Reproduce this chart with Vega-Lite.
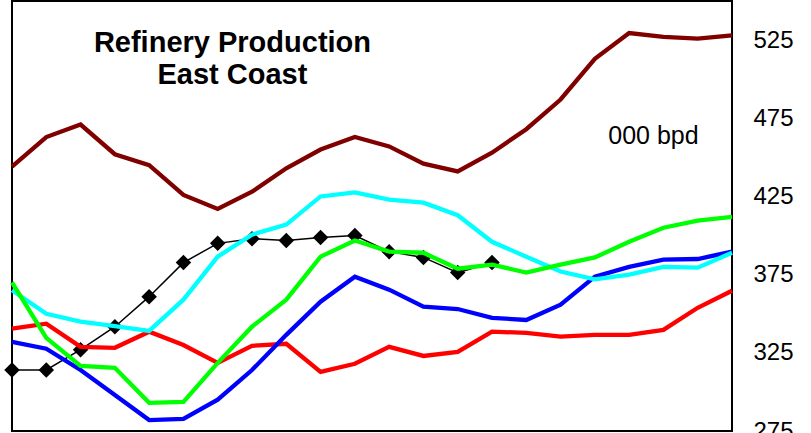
{
  "$schema": "https://vega.github.io/schema/vega-lite/v6.json",
  "autosize": {"type": "none"},
  "padding": {"left": 12, "top": 1, "right": 79, "bottom": 2},
  "width": 720,
  "height": 430,
  "background": "white",
  "config": {
    "view": {"stroke": "#000", "strokeWidth": 2},
    "font": "Liberation Sans"
  },
  "datasets": {
    "series": [
      {"s": "red", "i": 0, "v": 340.4}, {"s": "red", "i": 1, "v": 343.6}, {"s": "red", "i": 2, "v": 328.8}, {"s": "red", "i": 3, "v": 328.2}, {"s": "red", "i": 4, "v": 338.5}, {"s": "red", "i": 5, "v": 330}, {"s": "red", "i": 6, "v": 318.6}, {"s": "red", "i": 7, "v": 329.5}, {"s": "red", "i": 8, "v": 330.8}, {"s": "red", "i": 9, "v": 312.8}, {"s": "red", "i": 10, "v": 318}, {"s": "red", "i": 11, "v": 328.8}, {"s": "red", "i": 12, "v": 323}, {"s": "red", "i": 13, "v": 325.6}, {"s": "red", "i": 14, "v": 338.5}, {"s": "red", "i": 15, "v": 337.8}, {"s": "red", "i": 16, "v": 335.3}, {"s": "red", "i": 17, "v": 336.5}, {"s": "red", "i": 18, "v": 336.5}, {"s": "red", "i": 19, "v": 339.7}, {"s": "red", "i": 20, "v": 353.8}, {"s": "red", "i": 21, "v": 364.7},
      {"s": "blue", "i": 0, "v": 332}, {"s": "blue", "i": 1, "v": 327.6}, {"s": "blue", "i": 2, "v": 314}, {"s": "blue", "i": 3, "v": 298}, {"s": "blue", "i": 4, "v": 282}, {"s": "blue", "i": 5, "v": 282.7}, {"s": "blue", "i": 6, "v": 295}, {"s": "blue", "i": 7, "v": 314}, {"s": "blue", "i": 8, "v": 336.5}, {"s": "blue", "i": 9, "v": 357.7}, {"s": "blue", "i": 10, "v": 373.7}, {"s": "blue", "i": 11, "v": 365.4}, {"s": "blue", "i": 12, "v": 354.5}, {"s": "blue", "i": 13, "v": 353}, {"s": "blue", "i": 14, "v": 347.4}, {"s": "blue", "i": 15, "v": 346}, {"s": "blue", "i": 16, "v": 355.8}, {"s": "blue", "i": 17, "v": 373.7}, {"s": "blue", "i": 18, "v": 380}, {"s": "blue", "i": 19, "v": 384.6}, {"s": "blue", "i": 20, "v": 385}, {"s": "blue", "i": 21, "v": 389.7},
      {"s": "cyan", "i": 0, "v": 365}, {"s": "cyan", "i": 1, "v": 350}, {"s": "cyan", "i": 2, "v": 345}, {"s": "cyan", "i": 3, "v": 342}, {"s": "cyan", "i": 4, "v": 339}, {"s": "cyan", "i": 5, "v": 359}, {"s": "cyan", "i": 6, "v": 386.5}, {"s": "cyan", "i": 7, "v": 400.6}, {"s": "cyan", "i": 8, "v": 407}, {"s": "cyan", "i": 9, "v": 425}, {"s": "cyan", "i": 10, "v": 427.6}, {"s": "cyan", "i": 11, "v": 423}, {"s": "cyan", "i": 12, "v": 421}, {"s": "cyan", "i": 13, "v": 413}, {"s": "cyan", "i": 14, "v": 396}, {"s": "cyan", "i": 15, "v": 386.5}, {"s": "cyan", "i": 16, "v": 377}, {"s": "cyan", "i": 17, "v": 372}, {"s": "cyan", "i": 18, "v": 375}, {"s": "cyan", "i": 19, "v": 380}, {"s": "cyan", "i": 20, "v": 379.5}, {"s": "cyan", "i": 21, "v": 389},
      {"s": "green", "i": 0, "v": 370}, {"s": "green", "i": 1, "v": 334.6}, {"s": "green", "i": 2, "v": 316.7}, {"s": "green", "i": 3, "v": 315.4}, {"s": "green", "i": 4, "v": 293}, {"s": "green", "i": 5, "v": 293.6}, {"s": "green", "i": 6, "v": 318.6}, {"s": "green", "i": 7, "v": 341.7}, {"s": "green", "i": 8, "v": 359}, {"s": "green", "i": 9, "v": 386.5}, {"s": "green", "i": 10, "v": 396.8}, {"s": "green", "i": 11, "v": 389.7}, {"s": "green", "i": 12, "v": 389}, {"s": "green", "i": 13, "v": 378.8}, {"s": "green", "i": 14, "v": 381.4}, {"s": "green", "i": 15, "v": 376.3}, {"s": "green", "i": 16, "v": 381.4}, {"s": "green", "i": 17, "v": 386}, {"s": "green", "i": 18, "v": 396}, {"s": "green", "i": 19, "v": 405}, {"s": "green", "i": 20, "v": 409.6}, {"s": "green", "i": 21, "v": 412},
      {"s": "maroon", "i": 0, "v": 444}, {"s": "maroon", "i": 1, "v": 463}, {"s": "maroon", "i": 2, "v": 471}, {"s": "maroon", "i": 3, "v": 452}, {"s": "maroon", "i": 4, "v": 445}, {"s": "maroon", "i": 5, "v": 426}, {"s": "maroon", "i": 6, "v": 417}, {"s": "maroon", "i": 7, "v": 428}, {"s": "maroon", "i": 8, "v": 443}, {"s": "maroon", "i": 9, "v": 455}, {"s": "maroon", "i": 10, "v": 463}, {"s": "maroon", "i": 11, "v": 457}, {"s": "maroon", "i": 12, "v": 446}, {"s": "maroon", "i": 13, "v": 441}, {"s": "maroon", "i": 14, "v": 453}, {"s": "maroon", "i": 15, "v": 468}, {"s": "maroon", "i": 16, "v": 487}, {"s": "maroon", "i": 17, "v": 513}, {"s": "maroon", "i": 18, "v": 529.5}, {"s": "maroon", "i": 19, "v": 527}, {"s": "maroon", "i": 20, "v": 526}, {"s": "maroon", "i": 21, "v": 528}
    ],
    "actual": [
      {"i": 0, "v": 314}, {"i": 1, "v": 314}, {"i": 2, "v": 327}, {"i": 3, "v": 341.7}, {"i": 4, "v": 360.9}, {"i": 5, "v": 382.7}, {"i": 6, "v": 395}, {"i": 7, "v": 398}, {"i": 8, "v": 396.8}, {"i": 9, "v": 398.7}, {"i": 10, "v": 400}, {"i": 11, "v": 389.7}, {"i": 12, "v": 386}, {"i": 13, "v": 376.3}, {"i": 14, "v": 382.7}
    ]
  },
  "layer": [
    {
      "data": {"name": "actual"},
      "mark": {"type": "line", "color": "#000", "strokeWidth": 1.5, "point": {"shape": "diamond", "size": 240, "filled": true, "color": "#000"}},
      "encoding": {
        "x": {"field": "i", "type": "quantitative", "scale": {"domain": [0, 21], "nice": false, "zero": false}, "axis": null},
        "y": {"field": "v", "type": "quantitative", "scale": {"domain": [275, 550], "nice": false, "zero": false},
              "axis": {"orient": "right", "values": [275, 325, 375, 425, 475, 525], "ticks": false, "domain": false, "grid": false, "labelFontSize": 24, "labelFont": "Liberation Sans", "labelColor": "#000", "labelPadding": 21, "labelOverlap": false, "labelBound": false, "labelFlush": false, "title": null}}
      }
    },
    {
      "data": {"name": "series"},
      "mark": {"type": "line", "strokeWidth": 4.3},
      "encoding": {
        "x": {"field": "i", "type": "quantitative"},
        "y": {"field": "v", "type": "quantitative"},
        "color": {"field": "s", "type": "nominal", "scale": {"domain": ["red", "blue", "cyan", "green", "maroon"], "range": ["#FF0000", "#0000FF", "#00FFFF", "#00FF00", "#800000"]}, "legend": null}
      }
    },
    {
      "data": {"values": [{}]},
      "mark": {"type": "text", "text": ["Refinery Production", "East Coast"], "font": "Liberation Sans", "fontSize": 29, "fontWeight": "bold", "align": "center", "baseline": "alphabetic", "lineHeight": 32, "color": "#000"},
      "encoding": {
        "x": {"datum": 6.43, "type": "quantitative"},
        "y": {"datum": 517.6, "type": "quantitative"}
      }
    },
    {
      "data": {"values": [{}]},
      "mark": {"type": "text", "text": "000 bpd", "font": "Liberation Sans", "fontSize": 25, "align": "center", "baseline": "alphabetic", "color": "#000"},
      "encoding": {
        "x": {"datum": 18.71, "type": "quantitative"},
        "y": {"datum": 458.5, "type": "quantitative"}
      }
    }
  ]
}
